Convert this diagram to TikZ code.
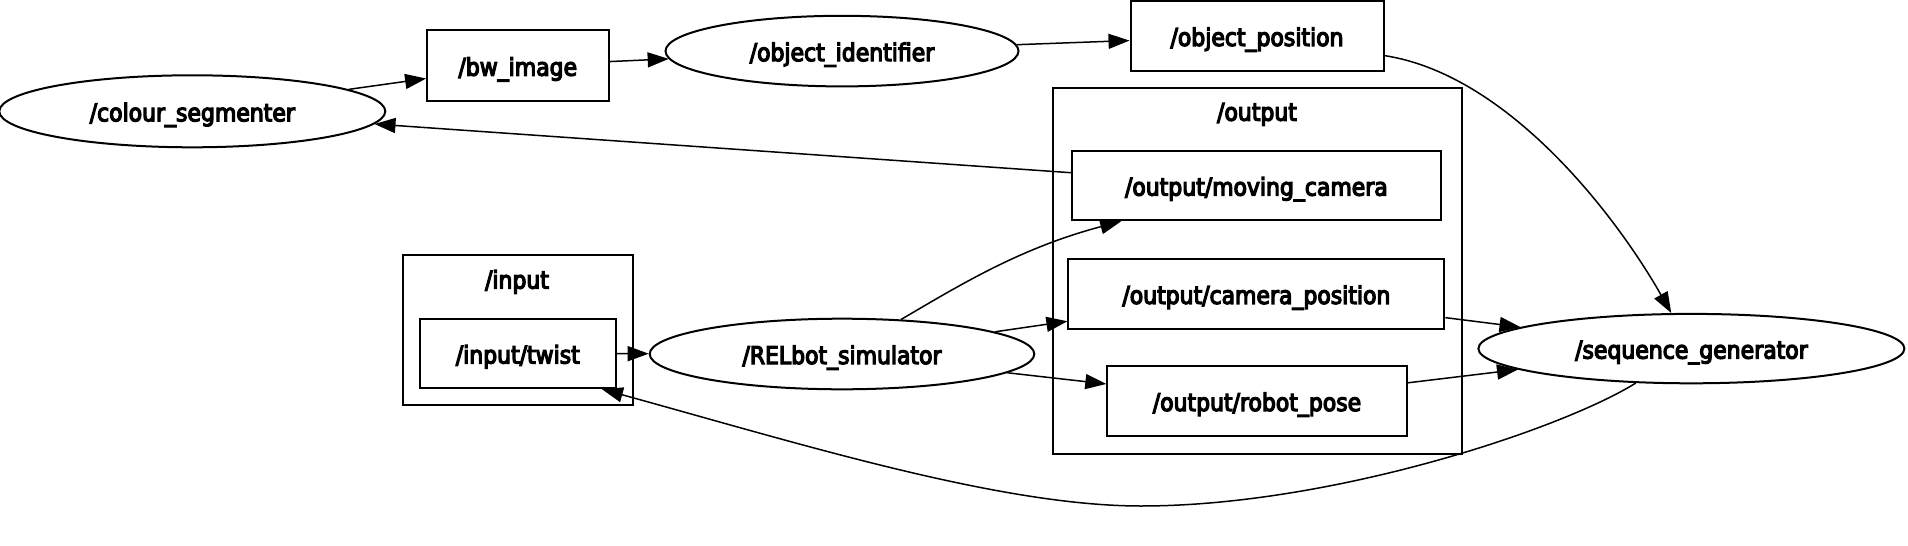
\documentclass[tikz,border=0pt]{standalone}
\usepackage{fontspec}
\setmainfont{DejaVu Sans Condensed}[FakeBold=5]
\usetikzlibrary{shapes.geometric,arrows.meta}
\begin{document}
\begin{tikzpicture}[x=0.5pt,y=-0.5pt,
  every node/.style={font=\fontsize{12.2}{14}\selectfont, line width=1pt, inner sep=0pt, text height=10.5pt, text depth=0.5pt},
  topic/.style={draw, rectangle, minimum height=34.7pt},
  nodeell/.style={draw, ellipse, minimum height=35.3pt},
  cluster/.style={draw, rectangle, line width=1pt},
  edge/.style={line width=0.75pt, -{Triangle[length=10.5pt,width=7.5pt]}}]
\useasboundingbox[fill=white] (0,0) rectangle (1908,546);
% clusters
\node[cluster, minimum width=204.5pt, minimum height=183.2pt] (outc) at (1257,270.75) {};
\node (outl) at (1257,110.7) {/output};
\node[cluster, minimum width=115pt, minimum height=74.9pt] (inc) at (517.75,330.35) {};
\node (inl) at (517,278.6) {/input};
% nodes
\node[nodeell, minimum width=193pt, minimum height=36pt] (cs) at (192.3,111.3) {/colour\_segmenter};
\node[topic, minimum width=90.7pt, minimum height=35.3pt] (bw) at (517.8,65.7) {/bw\_image};
\node[nodeell, minimum width=176.5pt] (oi) at (842,51.1) {/object\_identifier};
\node[topic, minimum width=126.5pt] (op) at (1257,35.9) {/object\_position};
\node[topic, minimum width=184.4pt] (mc) at (1256.4,185.6) {/output/moving\_camera};
\node[topic, minimum width=188pt] (cp) at (1256.4,293.9) {/output/camera\_position};
\node[topic, minimum width=149.7pt] (rp) at (1257,401) {/output/robot\_pose};
\node[topic, minimum width=98pt] (tw) at (517.8,353.5) {/input/twist};
\node[nodeell, minimum width=192.3pt] (rs) at (842,354) {/RELbot\_simulator};
\node[nodeell, minimum width=213pt, minimum height=34.7pt] (sg) at (1691.4,348.6) {/sequence\_generator};
% edges
\draw[edge] (cs) -- (bw);
\draw[edge] (bw) -- (oi);
\draw[edge] (oi) -- (op);
\draw[edge] (op) .. controls (1510,75) and (1618,219) .. (sg);
\draw[edge] (mc) -- (cs);
\draw[edge] (rs) .. controls (960,285) and (1020,248) .. (mc);
\draw[edge] (rs) -- (cp);
\draw[edge] (rs) -- (rp);
\draw[edge] (cp) -- (sg);
\draw[edge] (rp) -- (sg);
\draw[edge] (tw) -- (rs);
\coordinate (low) at (1141,506);
\draw[edge] (sg) .. controls (1560,430) and (1330,506) .. (low) .. controls (1000,506) and (801,444) .. (tw.-23.7);
\end{tikzpicture}
\end{document}
